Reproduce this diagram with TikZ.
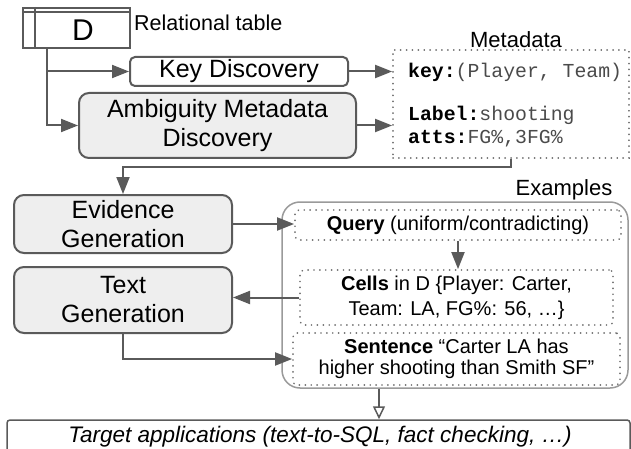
\documentclass[tikz,border=0pt]{standalone}
\usepackage{fontspec}
\setmainfont{Liberation Sans}
\setmonofont{Liberation Mono}
\usetikzlibrary{arrows.meta,calc}
\definecolor{edge}{HTML}{5A5A5A}
\definecolor{boxfill}{HTML}{EEEEEE}
\definecolor{dotc}{HTML}{6E6E6E}
\definecolor{exedge}{HTML}{9A9A9A}
\definecolor{monogray}{HTML}{4A4A4A}
\tikzset{
  box/.style={draw=edge, line width=2pt, rectangle, inner sep=0pt, align=center},
  graybox/.style={box, fill=boxfill, rounded corners=10pt, font=\fontsize{25}{29}\selectfont},
  dotbox/.style={draw=dotc, line width=1.8pt, dash pattern=on 0.1pt off 5.8pt, line cap=round, rectangle, inner sep=0pt, align=center, rounded corners=4pt},
  arr/.style={draw=edge, line width=2pt, -{Triangle[length=17pt,width=13pt]}},
  openarr/.style={draw=edge, line width=1.5pt, -{Triangle[open,length=13pt,width=12pt,line width=1.5pt]}},
  lbl/.style={inner sep=0pt, font=\fontsize{22}{26}\selectfont},
  ex/.style={inner sep=0pt, align=center, font=\fontsize{20}{25}\selectfont},
  mono/.style={inner sep=0pt, font=\fontsize{19.8}{22}\selectfont\ttfamily},
}
\begin{document}
\begin{tikzpicture}[x=1pt,y=-1pt]
\useasboundingbox (0,0) rectangle (631,449);

% relational table
\node[box, minimum width=107pt, minimum height=40pt] (tbl) at (76.5,28) {};
\draw[edge, line width=2pt] ($(tbl.north west)+(0,5)$) -- ($(tbl.north east)+(0,5)$);
\draw[edge, line width=2pt] ($(tbl.north west)+(13,0)$) -- ($(tbl.south west)+(13,0)$);
\node[inner sep=0pt, font=\fontsize{30}{32}\selectfont] (dlab) at (83,30) {D};
\node[lbl, anchor=west, font=\fontsize{21.5}{24}\selectfont] (rel) at (134,23) {Relational table};

% discovery boxes
\node[box, rounded corners=5pt, minimum width=218pt, minimum height=29pt, font=\fontsize{25}{29}\selectfont] (keyd) at (239,71.5) {Key Discovery};
\node[graybox, minimum width=277pt, minimum height=65pt] (amd) at (217.5,125.5) {Ambiguity Metadata\\Discovery};

% metadata
\node[dotbox, rounded corners=0pt, minimum width=236pt, minimum height=108pt] (meta) at (511,104) {};
\node[lbl, anchor=base] (metal) at (516,48) {Metadata};
\node[mono, anchor=base west] (mk) at (408,78) {\textbf{key:}\textcolor{monogray}{(Player, Team)}};
\node[mono, anchor=base west] (ml) at (408,121) {\textbf{Label:}\textcolor{monogray}{shooting}};
\node[mono, anchor=base west] (ma) at (408,144) {\textbf{atts:}\textcolor{monogray}{FG\%,3FG\%}};

% generation boxes
\node[graybox, minimum width=218pt, minimum height=58pt] (evid) at (123,224) {Evidence\\Generation};
\node[graybox, minimum width=218pt, minimum height=66pt] (textg) at (123,300) {Text\\Generation};

% examples
\node[draw=exedge, line width=1.5pt, rounded corners=18pt, minimum width=346pt, minimum height=186pt, inner sep=0pt] (exbox) at (455,295) {};
\node[lbl, anchor=base] (exl) at (564,195) {Examples};
\node[dotbox, minimum width=326pt, minimum height=30pt] (query) at (458,225) {};
\node[ex] (qt) at (query) {\textbf{Query} (uniform/contradicting)};
\node[dotbox, minimum width=313pt, minimum height=55pt] (cells) at (456.5,297.5) {};
\node[ex] (ct) at (cells) {\textbf{Cells} in D \{Player: Carter,\\Team: LA, FG\%: 56, \dots\}};
\node[dotbox, minimum width=327pt, minimum height=52pt] (sent) at (456.5,359) {};
\node[ex, font=\fontsize{20}{21}\selectfont] (st) at (sent) {\textbf{Sentence} \textquotedblleft Carter LA has\\higher shooting than Smith SF\textquotedblright};

% target
\node[box, line width=1.5pt, rounded corners=3pt, minimum width=623pt, minimum height=36pt] (target) at (318.5,438) {};
\node[inner sep=0pt, font=\fontsize{22.5}{26}\selectfont\itshape] (tt) at (320,437) {Target applications (text-to-SQL, fact checking, \dots)};

% connectors
\coordinate (tx) at (47,0);
\coordinate (ax) at (379,0);
\draw[arr] (tbl.south -| tx) |- (keyd.west);
\draw[arr] (tbl.south -| tx) |- (amd.west);
\draw[arr] (keyd.east) -- (keyd.east -| meta.west);
\draw[arr] (amd.east) -- (amd.east -| meta.west);
\draw[arr] (meta.south) -- ++(0,8) -| (evid.north);
\draw[arr] (evid.east) -- (evid.east -| query.west);
\draw[arr] (query.south) -- (query.south |- cells.north);
\draw[arr] (cells.west) -- (cells.west -| textg.east);
\draw[arr] (textg.south) |- (sent.west);
\draw[openarr] (exbox.south -| ax) -- (target.north -| ax);
\end{tikzpicture}
\end{document}
